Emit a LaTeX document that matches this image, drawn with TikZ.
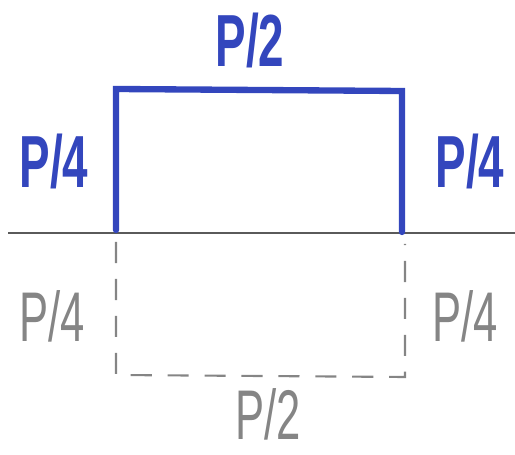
\documentclass[tikz,border=0pt]{standalone}
\usepackage{fontspec}
\usepackage{tikz}
\usetikzlibrary{positioning}
\newfontfamily\handbold[FakeStretch=0.62]{Liberation Sans}
\definecolor{pen}{HTML}{3346bd}
\definecolor{pencil}{HTML}{858585}
\definecolor{ground}{HTML}{5a5a5a}

\begin{document}
\begin{tikzpicture}[x=0.01cm, y=-0.01cm,
  wall/.style={pen, line width=1.8pt, line cap=round},
  ghost/.style={pencil, line width=0.6pt, dash pattern=on 6pt off 4.5pt},
  penlab/.style={text=pen, font=\handbold\bfseries\fontsize{21}{24}\selectfont, inner sep=0pt},
  pencillab/.style={text=pencil, font=\handbold\fontsize{20}{24}\selectfont, inner sep=0pt}]
\useasboundingbox (0,0) rectangle (515,455);
% ground line
\coordinate (g0) at (8,233);
\coordinate (g1) at (515,233);
\draw[ground, line width=0.7pt] (g0) -- (g1);
% raised part above the ground
\coordinate (a) at (116,230);
\coordinate (b) at (116,89);
\coordinate (c) at (402,91);
\coordinate (d) at (402,232);
\draw[wall] (a) -- (b) -- (c) -- (d);
% mirrored part below
\coordinate (e) at (116,242);
\coordinate (f) at (116,375);
\coordinate (h) at (405,377);
\coordinate (k) at (405,244);
\draw[ghost] (e) -- (f) -- (h) -- (k);
% labels
\node[penlab] (top) at (250,40) {P/2};
\node[penlab] (left) at (54,161) {P/4};
\node[penlab] (right) at (470,161) {P/4};
\node[pencillab] (lleft) at (52,316) {P/4};
\node[pencillab] (lright) at (465,316) {P/4};
\node[pencillab] (bottom) at (268,414) {P/2};
\end{tikzpicture}
\end{document}
